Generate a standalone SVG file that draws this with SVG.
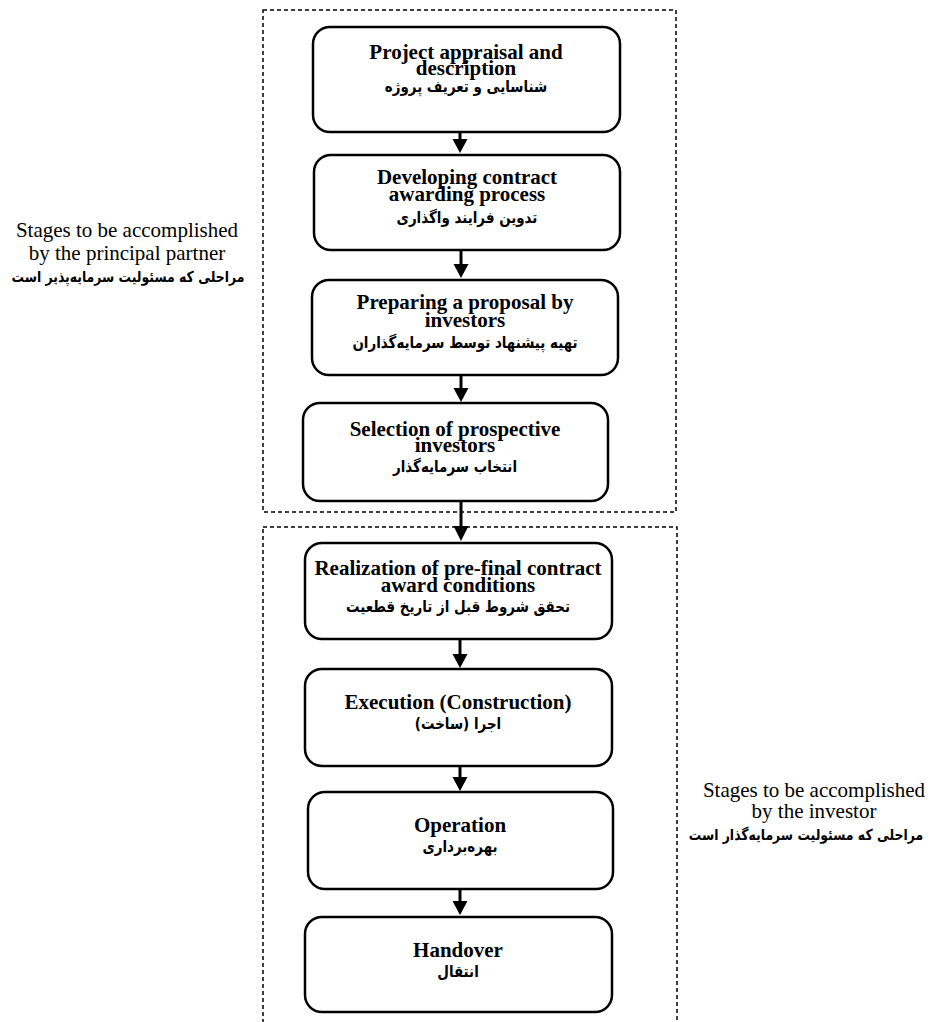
<svg xmlns="http://www.w3.org/2000/svg" width="932" height="1022" viewBox="0 0 932 1022">
<style>
.bg{fill:#fff}
.frame{fill:none;stroke:#000;stroke-width:1.5;stroke-dasharray:4 3}
.box{fill:#fff;stroke:#000;stroke-width:2.5}
.t{font-family:"Liberation Serif","Times New Roman",serif;font-weight:bold;font-size:21px;text-anchor:middle;fill:#000}
.fa{font-family:"DejaVu Sans",sans-serif;font-weight:bold;font-size:16px;text-anchor:middle;fill:#000}
.fs{font-family:"DejaVu Sans",sans-serif;font-weight:bold;font-size:15px;text-anchor:middle;fill:#000}
.lab{font-family:"Liberation Serif","Times New Roman",serif;font-size:21px;text-anchor:middle;fill:#000}
.shaft{stroke:#000;stroke-width:3;fill:none}
.head{fill:#000}
</style>
<rect class="bg" x="0" y="0" width="932" height="1022"/>
<g id="frames">
<rect class="frame" x="263" y="10" width="413" height="502"/>
<rect class="frame" x="263" y="527" width="414" height="520"/>
</g>
<g id="label-principal">
<text class="lab" x="127" y="237">Stages to be accomplished</text>
<text class="lab" x="127" y="260">by the principal partner</text>
<text class="fs" transform="translate(128 282) scale(0.83 1)" direction="rtl">مراحلی که مسئولیت سرمایه‌پذیر است</text>
</g>
<g id="label-investor">
<text class="lab" x="814" y="797">Stages to be accomplished</text>
<text class="lab" x="814" y="818">by the investor</text>
<text class="fs" transform="translate(806 840) scale(0.83 1)" direction="rtl">مراحلی که مسئولیت سرمایه‌گذار است</text>
</g>
<g id="connectors">
<line class="shaft" x1="460" y1="132" x2="460" y2="140"/><polygon class="head" points="452.5,139 467.5,139 460,153"/>
<line class="shaft" x1="461" y1="250" x2="461" y2="265"/><polygon class="head" points="453.5,264 468.5,264 461,278"/>
<line class="shaft" x1="461" y1="375" x2="461" y2="389"/><polygon class="head" points="453.5,388 468.5,388 461,402"/>
<line class="shaft" x1="461" y1="501" x2="461" y2="527"/><polygon class="head" points="453.5,526 468.5,526 461,541"/>
<line class="shaft" x1="460" y1="639" x2="460" y2="655"/><polygon class="head" points="452.5,654 467.5,654 460,668"/>
<line class="shaft" x1="460" y1="766" x2="460" y2="778"/><polygon class="head" points="452.5,777 467.5,777 460,791"/>
<line class="shaft" x1="460" y1="889" x2="460" y2="902"/><polygon class="head" points="452.5,901 467.5,901 460,915"/>
</g>
<g id="n1">
<rect class="box" x="313" y="27" width="307" height="105" rx="17"/>
<text class="t" x="466" y="59">Project appraisal and</text>
<text class="t" x="466" y="75">description</text>
<text class="fa" transform="translate(466 92) scale(0.84 1)" direction="rtl">شناسایی و تعریف پروژه</text>
</g>
<g id="n2">
<rect class="box" x="314" y="155" width="306" height="95" rx="17"/>
<text class="t" x="467" y="184">Developing contract</text>
<text class="t" x="467" y="201">awarding process</text>
<text class="fa" transform="translate(467 223) scale(0.84 1)" direction="rtl">تدوین فرایند واگذاری</text>
</g>
<g id="n3">
<rect class="box" x="312" y="280" width="306" height="95" rx="17"/>
<text class="t" x="465" y="309">Preparing a proposal by</text>
<text class="t" x="465" y="327">investors</text>
<text class="fa" transform="translate(465 348) scale(0.84 1)" direction="rtl">تهیه پیشنهاد توسط سرمایه‌گذاران</text>
</g>
<g id="n4">
<rect class="box" x="303" y="403" width="305" height="98" rx="17"/>
<text class="t" x="455" y="436">Selection of prospective</text>
<text class="t" x="455" y="452">investors</text>
<text class="fa" transform="translate(455 472) scale(0.84 1)" direction="rtl">انتخاب سرمایه‌گذار</text>
</g>
<g id="n5">
<rect class="box" x="305" y="543" width="307" height="96" rx="17"/>
<text class="t" x="458" y="575">Realization of pre-final contract</text>
<text class="t" x="458" y="592">award conditions</text>
<text class="fa" transform="translate(458 612) scale(0.84 1)" direction="rtl">تحقق شروط قبل از تاریخ قطعیت</text>
</g>
<g id="n6">
<rect class="box" x="305" y="669" width="307" height="97" rx="17"/>
<text class="t" x="458" y="709">Execution (Construction)</text>
<text class="fa" transform="translate(458 729) scale(0.84 1)" direction="rtl">اجرا (ساخت)</text>
</g>
<g id="n7">
<rect class="box" x="308" y="792" width="305" height="97" rx="17"/>
<text class="t" x="460" y="832">Operation</text>
<text class="fa" transform="translate(460 852) scale(0.84 1)" direction="rtl">بهره‌برداری</text>
</g>
<g id="n8">
<rect class="box" x="305" y="917" width="307" height="95" rx="17"/>
<text class="t" x="458" y="957">Handover</text>
<text class="fa" transform="translate(458 977) scale(0.84 1)" direction="rtl">انتقال</text>
</g>
</svg>
